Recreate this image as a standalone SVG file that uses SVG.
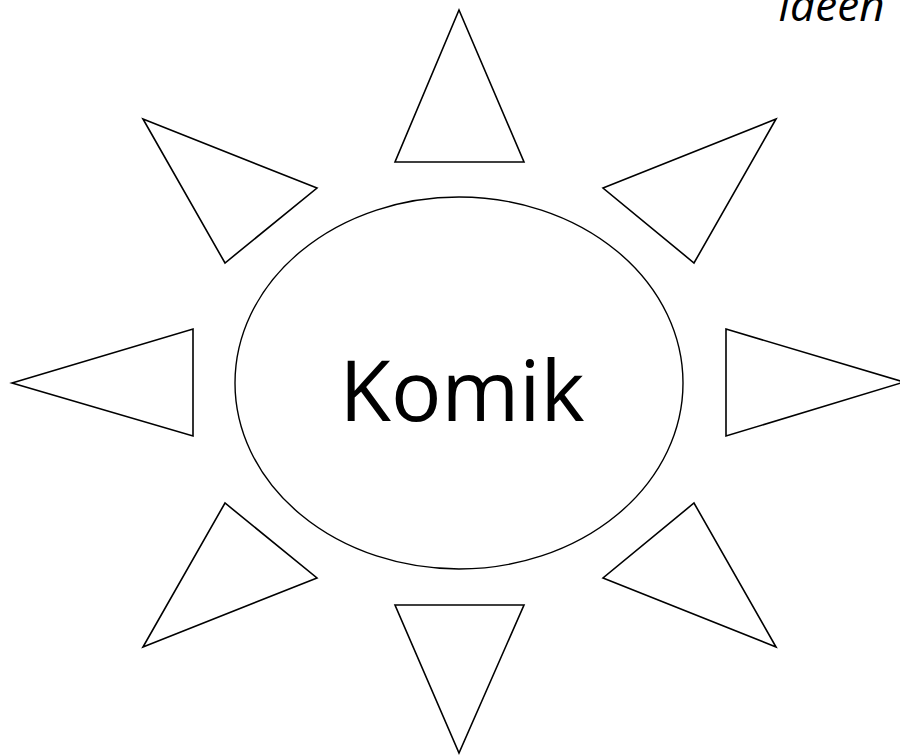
<svg xmlns="http://www.w3.org/2000/svg" width="900" height="756" viewBox="0 0 900 756">
<style>
.ray{fill:#fff;stroke:#000;stroke-width:1.6;stroke-linejoin:miter}
.core{fill:#fff;stroke:#000;stroke-width:1.4}
.lbl{font-family:"Open Sans","Liberation Sans",sans-serif;fill:#000}
</style>
<rect width="900" height="756" fill="#fff"/>
<text class="lbl" x="778" y="21" font-size="44" font-style="italic">Ideen</text>
<g id="ray-top"><polygon class="ray" points="459,10 524,162 395,162"/></g>
<g id="ray-top-right"><polygon class="ray" points="776,119 603,188 694,263"/></g>
<g id="ray-right"><polygon class="ray" points="726,329 904,382 726,436"/></g>
<g id="ray-bottom-right"><polygon class="ray" points="776,647 603,578 694,503"/></g>
<g id="ray-bottom"><polygon class="ray" points="395,605 524,605 459,753"/></g>
<g id="ray-bottom-left"><polygon class="ray" points="143,647 317,578 225,503"/></g>
<g id="ray-left"><polygon class="ray" points="12,383 193,329 193,436"/></g>
<g id="ray-top-left"><polygon class="ray" points="143,119 317,188 225,263"/></g>
<g id="center">
<ellipse class="core" cx="459" cy="383" rx="224" ry="186"/>
<text class="lbl" x="462" y="421" font-size="84" text-anchor="middle">Komik</text>
</g>
<g id="connectors"></g>
</svg>
